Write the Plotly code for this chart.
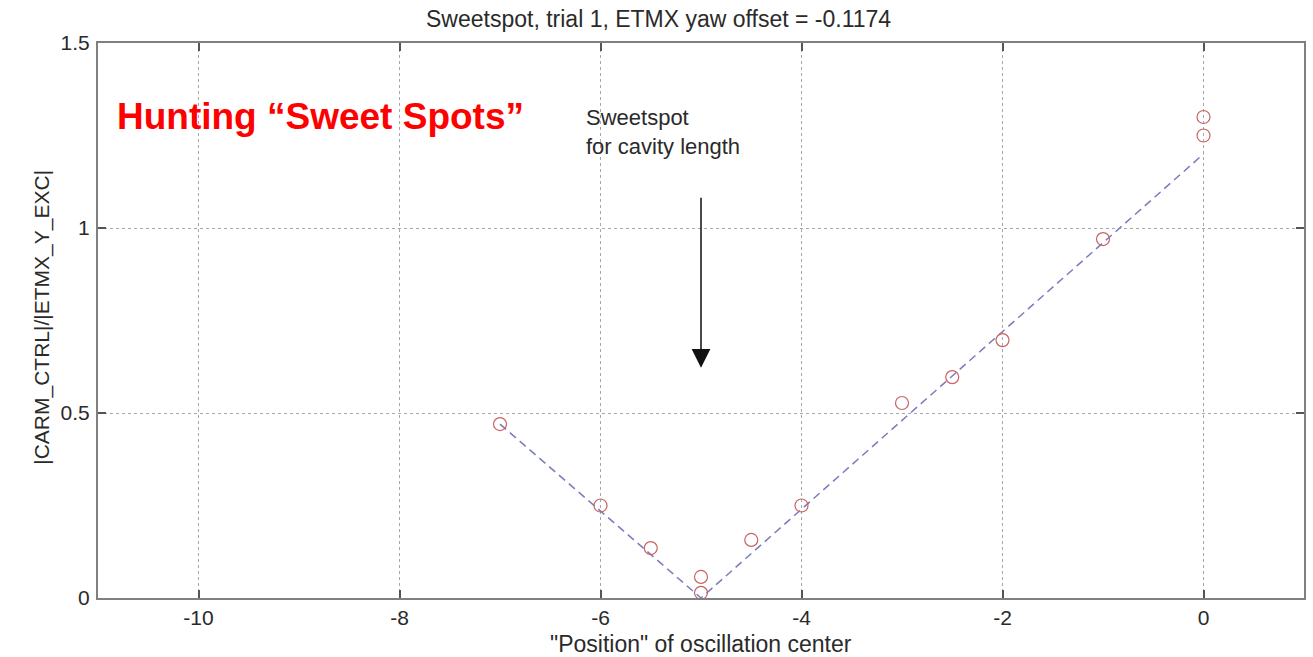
import plotly.graph_objects as go

# Measured response vs. position of the oscillation center
positions = [-7, -6, -5.5, -5, -5, -4.5, -4, -3, -2.5, -2, -1, 0, 0]
response = [0.47, 0.25, 0.135, 0.057, 0.014, 0.157, 0.25, 0.527, 0.597, 0.697, 0.97, 1.30, 1.25]

# Piecewise linear fit (V shape) around the sweet spot
fit_x = [-7, -5, 0]
fit_y = [0.47, 0.0, 1.2]

# Arrow marking the sweet spot
sweet_x = -5
arrow_tail_y = 1.086
arrow_tip_y = 0.622

x_ticks = [-10, -8, -6, -4, -2, 0]
x_tick_text = ["-10", "-8", "-6", "-4", "-2", "0"]
y_ticks = [0, 0.5, 1, 1.5]
y_tick_text = ["0", "0.5", "1", "1.5"]

FONT = "Liberation Sans, Arial, Helvetica, sans-serif"
TEXT_GRAY = "#2a2a2a"
AXIS_GRAY = "#808080"

fig = go.Figure()

fig.add_trace(go.Scatter(
    x=fit_x, y=fit_y, mode="lines",
    line=dict(color="#7b7bc0", width=1.5, dash="8px,5px"),
    hoverinfo="skip", showlegend=False,
))

fig.add_trace(go.Scatter(
    x=positions, y=response, mode="markers",
    marker=dict(symbol="circle-open", size=13, color="#c86464",
                line=dict(width=1.2, color="#c86464")),
    showlegend=False,
))

axis_common = dict(
    showline=True, linecolor=AXIS_GRAY, linewidth=2, mirror="ticks",
    ticks="inside", ticklen=8, tickwidth=1.5, tickcolor="#555555",
    showgrid=True, gridcolor="#a8a8a8", gridwidth=1, griddash="dot",
    zeroline=False,
    tickfont=dict(family=FONT, size=21, color=TEXT_GRAY),
)

fig.update_xaxes(range=[-11, 1], tickvals=x_ticks, ticktext=x_tick_text,
                 ticklabelstandoff=0, **axis_common)
fig.update_yaxes(range=[0, 1.5], tickvals=y_ticks, ticktext=y_tick_text,
                 ticklabelstandoff=2, **axis_common)

annotations = [
    # Title
    dict(text="Sweetspot, trial 1, ETMX yaw offset = -0.1174",
         xref="paper", yref="paper", x=0.465, y=1.043,
         xanchor="center", yanchor="middle", showarrow=False,
         font=dict(family=FONT, size=23, color=TEXT_GRAY)),
    # X axis title
    dict(text="\"Position\" of oscillation center",
         xref="paper", yref="paper", x=0.5, y=-0.083,
         xanchor="center", yanchor="middle", showarrow=False,
         font=dict(family=FONT, size=23, color=TEXT_GRAY)),
    # Y axis title
    dict(text="|CARM_CTRL|/|ETMX_Y_EXC|",
         xref="paper", yref="paper", x=-0.0464, y=0.505,
         xanchor="center", yanchor="middle", textangle=-90, showarrow=False,
         font=dict(family=FONT, size=21, color=TEXT_GRAY)),
    # Headline
    dict(text="<b>Hunting \u201cSweet Spots\u201d</b>",
         xref="paper", yref="paper", x=0.0141, y=0.868,
         xanchor="left", yanchor="middle", showarrow=False,
         font=dict(family=FONT, size=37, color="#ff0000")),
    # Sweet spot label
    dict(text="Sweetspot<br>for cavity length",
         xref="paper", yref="paper", x=0.403, y=0.839,
         xanchor="left", yanchor="middle", align="left", showarrow=False,
         font=dict(family=FONT, size=22, color=TEXT_GRAY)),
    # Arrow pointing at the sweet spot
    dict(text="", x=sweet_x, y=arrow_tip_y, ax=sweet_x, ay=arrow_tail_y,
         xref="x", yref="y", axref="x", ayref="y",
         showarrow=True, arrowhead=2, arrowsize=2.5, arrowwidth=1.5,
         arrowcolor="#111111", standoff=0),
]

fig.update_layout(
    width=1313, height=657,
    margin=dict(l=98, r=7, t=43, b=59),
    paper_bgcolor="white", plot_bgcolor="white",
    annotations=annotations,
    showlegend=False,
)

fig.write_html("out.html")
